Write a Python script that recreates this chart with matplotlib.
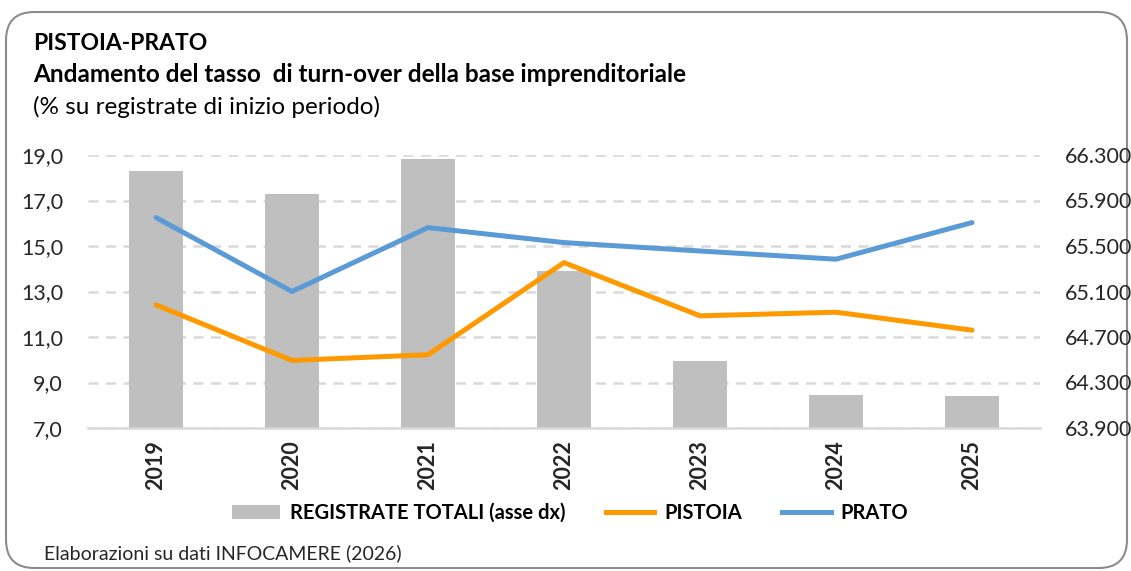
import matplotlib
matplotlib.use("Agg")
import matplotlib.pyplot as plt
from matplotlib.patches import FancyBboxPatch, Patch
from matplotlib.lines import Line2D
from matplotlib.ticker import FuncFormatter
import numpy as np

plt.rcParams['font.family'] = ['Lato', 'DejaVu Sans']

years = ["2019", "2020", "2021", "2022", "2023", "2024", "2025"]
registrate = [66162, 65960, 66264, 65284, 64485, 64190, 64177]
pistoia = [12.41, 9.97, 10.22, 14.27, 11.93, 12.09, 11.30]
prato = [16.25, 13.00, 15.81, 15.15, 14.78, 14.42, 16.03]

left_ticks = [7.0, 9.0, 11.0, 13.0, 15.0, 17.0, 19.0]
right_ticks = [63900, 64300, 64700, 65100, 65500, 65900, 66300]

fig = plt.figure(figsize=(11.31, 5.71), dpi=100)

# rounded frame
frame = FancyBboxPatch((6/1131, 3/571), 1121/1131, 556/571,
                       boxstyle="round,pad=0,rounding_size=0.025",
                       transform=fig.transFigure, facecolor='white',
                       edgecolor='#8c8c8c', linewidth=1.5, zorder=-5,
                       mutation_aspect=1131/571)
fig.patches.append(frame)

ax = fig.add_axes([88/1131, 1 - 428/571, (1040 - 88)/1131, (428 - 155)/571])
ax2 = ax.twinx()
ax.patch.set_visible(False)
ax2.patch.set_visible(False)

x = np.arange(len(years))
ax.bar(x, registrate, width=0.4, color='#bfbfbf', zorder=2)
ax.set_ylim(right_ticks[0], right_ticks[-1])
ax.set_xlim(-0.5, len(years) - 0.5)
ax.set_yticks(right_ticks)
ax.yaxis.tick_right()
ax.yaxis.set_major_formatter(FuncFormatter(lambda v, p: f"{int(round(v)):,}".replace(",", ".")))
ax.grid(axis='y', color='#d9d9d9', linestyle=(0, (4, 3)), linewidth=1.8, zorder=1)
ax.set_axisbelow(True)
for s in ['top', 'left', 'right']:
    ax.spines[s].set_visible(False)
ax.spines['bottom'].set_color('#d9d9d9')
ax.spines['bottom'].set_linewidth(1.8)
ax.tick_params(axis='y', length=0, pad=18, labelsize=15.5, labelcolor='#262626')
ax.set_xticks(x)
ax.set_xticklabels(years, rotation=90, fontsize=15.5, fontweight='bold', color='#262626')
ax.tick_params(axis='x', length=0, pad=9)

ax2.plot(x, pistoia, color='#ff9900', linewidth=3.6, solid_capstyle='round', solid_joinstyle='round', zorder=3)
ax2.plot(x, prato, color='#5b9bd5', linewidth=3.6, solid_capstyle='round', solid_joinstyle='round', zorder=3)
ax2.set_ylim(left_ticks[0], left_ticks[-1])
ax2.set_yticks(left_ticks)
ax2.yaxis.tick_left()
ax2.yaxis.set_major_formatter(FuncFormatter(lambda v, p: f"{v:.1f}".replace(".", ",")))
ax2.tick_params(axis='y', length=0, pad=18, labelsize=15.5, labelcolor='#262626')
for s in ['top', 'left', 'right', 'bottom']:
    ax2.spines[s].set_visible(False)

# titles
fig.text(33/1131, 1 - 44/571, "PISTOIA-PRATO", fontsize=16.5, fontweight='bold', va='center', color='black')
fig.text(33/1131, 1 - 75/571, "Andamento del tasso  di turn-over della base imprenditoriale", fontsize=17.5,
         fontweight='bold', va='center', color='black')
fig.text(33/1131, 1 - 107/571, "(% su registrate di inizio periodo)", fontsize=17.5, va='center', color='black')
fig.text(44/1131, 1 - 553/571, "Elaborazioni su dati INFOCAMERE (2026)", fontsize=14, va='center', color='#262626')

handles = [Patch(facecolor='#bfbfbf', edgecolor='none'),
           Line2D([0], [0], color='#ff9900', linewidth=3.6),
           Line2D([0], [0], color='#5b9bd5', linewidth=3.6)]
labels = ["REGISTRATE TOTALI (asse dx)", "PISTOIA", "PRATO"]
leg = fig.legend(handles, labels, loc='center', bbox_to_anchor=(570/1131, 1 - 513/571), ncol=3,
                 frameon=False, prop={'weight': 'bold', 'size': 14.5}, handlelength=2.4,
                 handletextpad=0.5, columnspacing=2.0)

fig.savefig("out.png", dpi=100)
